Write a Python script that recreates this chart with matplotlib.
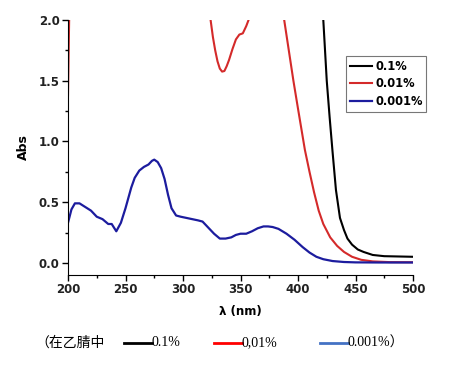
import matplotlib
matplotlib.use("Agg")
import matplotlib.pyplot as plt
from matplotlib.lines import Line2D
from matplotlib.ticker import MultipleLocator

# Data (wavelength nm, absorbance)
wl_blue = [200, 203, 206, 210, 215, 220, 225, 230, 235, 238, 242, 246, 250, 255, 258, 262, 266, 270, 273, 275,
           278, 281, 284, 287, 290, 294, 298, 303, 308, 313, 317, 322, 327, 332, 337, 342, 346, 350, 355,
           360, 365, 370, 374, 378, 383, 390, 397, 404, 410, 416, 422, 430, 440, 450, 470, 500]
abs_blue = [0.33, 0.44, 0.49, 0.49, 0.46, 0.43, 0.38, 0.36, 0.32, 0.32, 0.26, 0.33, 0.45, 0.62, 0.70, 0.76, 0.79, 0.81, 0.84, 0.85,
            0.83, 0.78, 0.69, 0.56, 0.45, 0.39, 0.38, 0.37, 0.36, 0.35, 0.34, 0.29, 0.24, 0.20, 0.20, 0.21, 0.23, 0.24, 0.24,
            0.26, 0.285, 0.30, 0.30, 0.295, 0.28, 0.24, 0.19, 0.13, 0.085, 0.05, 0.03, 0.015, 0.007, 0.004, 0.003, 0.003]

wl_red = [200, 200.5, 201, 202, 250, 320, 324, 326, 328, 330, 332, 334, 336, 338, 340, 343, 346, 349, 352, 355, 357, 360,
          380, 388, 392, 396, 400, 403, 406, 410, 414, 418, 422, 428, 434, 440, 447, 455, 465, 480, 500]
abs_red = [1.38, 1.7, 2.0, 2.6, 2.6, 2.6, 2.0, 1.86, 1.75, 1.66, 1.60, 1.575, 1.58, 1.62, 1.67, 1.76, 1.84, 1.88, 1.89, 1.95, 2.0, 2.3,
           2.3, 2.0, 1.75, 1.5, 1.27, 1.1, 0.93, 0.75, 0.58, 0.43, 0.32, 0.21, 0.14, 0.09, 0.05, 0.025, 0.012, 0.006, 0.005]

wl_black = [300, 420, 422, 425, 427.5, 430, 433, 436.5, 440, 443, 447, 452, 457, 465, 475, 500]
abs_black = [2.6, 2.3, 2.0, 1.5, 1.2, 0.92, 0.6, 0.37, 0.27, 0.2, 0.15, 0.11, 0.09, 0.065, 0.055, 0.05]

labels = ["0.1%", "0.01%", "0.001%"]
bottom_labels = ["0.1%", "0,01%", "0.001%）"]
bottom_prefix = "（在乙腈中"

fig = plt.figure(figsize=(4.62, 3.72), dpi=100)
ax = fig.add_axes([68/462, 1-275/372, (413-68)/462, (275-20)/372])

l1, = ax.plot(wl_black, abs_black, color="black", lw=1.5)
l2, = ax.plot(wl_red, abs_red, color="#d42a2a", lw=1.5)
l3, = ax.plot(wl_blue, abs_blue, color="#1c1c9e", lw=1.6)

ax.set_xlim(200, 500)
ax.set_ylim(-0.1, 2.0)
ax.spines["top"].set_visible(False)
ax.spines["right"].set_visible(False)
ax.xaxis.set_major_locator(MultipleLocator(50))
ax.xaxis.set_minor_locator(MultipleLocator(25))
ax.yaxis.set_major_locator(MultipleLocator(0.5))
ax.yaxis.set_minor_locator(MultipleLocator(0.25))
ax.tick_params(which="major", length=4, width=1, labelsize=8.5, pad=2)
ax.tick_params(which="minor", length=2.5, width=1)
for t in ax.get_xticklabels() + ax.get_yticklabels():
    t.set_fontweight("bold")
    t.set_color("#222222")
ax.set_xlabel("λ (nm)", fontsize=8.5, fontweight="bold", labelpad=6)
ax.set_ylabel("Abs", fontsize=9, fontweight="bold", labelpad=6)

leg = fig.legend([l1, l2, l3], labels, loc="upper left",
                 bbox_to_anchor=(346/462, 1-56/372), frameon=True, fancybox=False,
                 prop={"weight": "bold", "size": 8.3}, handlelength=1.9, handletextpad=0.3,
                 labelspacing=0.4, borderpad=0.33, borderaxespad=0)
leg.get_frame().set_edgecolor("#555555")
leg.get_frame().set_linewidth(0.8)

# bottom annotation line
yb = 1 - 343/372
fig.text(35/462, yb, bottom_prefix, fontsize=10, va="center", ha="left",
         family=["Noto Sans CJK SC", "DejaVu Sans"])
cols = ["black", "#ff0000", "#4472c4"]
xs = [(124, 152), (214, 242), (320, 348)]
for (xa, xbnd), c, lab in zip(xs, cols, bottom_labels):
    fig.add_artist(Line2D([xa/462, xbnd/462], [yb, yb], color=c, lw=2, transform=fig.transFigure))
    fig.text(xbnd/462, yb, lab, fontsize=10, va="center", ha="left",
             family=["Liberation Serif", "Noto Sans CJK SC"])

fig.savefig("out.png", dpi=100)
